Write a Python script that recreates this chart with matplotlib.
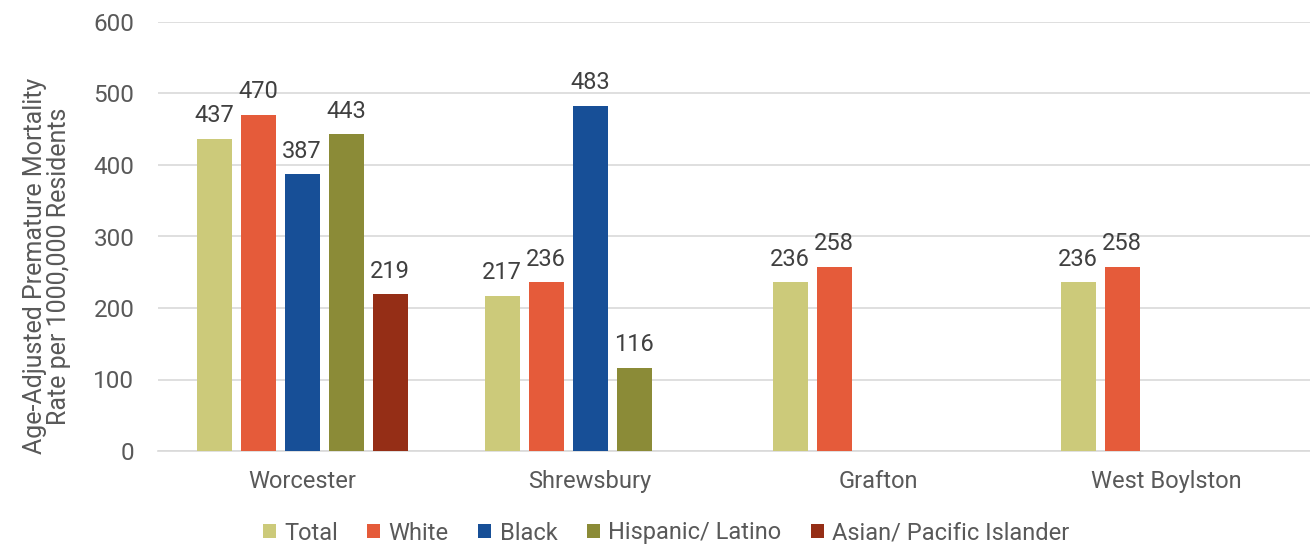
import numpy as np
import matplotlib
matplotlib.use("Agg")
import matplotlib.pyplot as plt

plt.rcParams['font.family'] = ['Roboto', 'DejaVu Sans']

categories = ["Worcester", "Shrewsbury", "Grafton", "West Boylston"]
series_names = ["Total", "White", "Black", "Hispanic/ Latino", "Asian/ Pacific Islander"]
total = [437, 217, 236, 236]
white = [470, 236, 258, 258]
black = [387, 483, np.nan, np.nan]
hispanic = [443, 116, np.nan, np.nan]
asian = [219, np.nan, np.nan, np.nan]
yticks = [0, 100, 200, 300, 400, 500, 600]

colors = ["#CCCA7A", "#E55B3A", "#174F97", "#8B8B37", "#952E16"]
text_color = "#595959"

fig = plt.figure(figsize=(13.1, 5.45), dpi=100)
ax = fig.add_axes([158/1310, 1-451/545, 1-158/1310, (451-22)/545])

x = np.arange(len(categories))
step = 44/288
width = 35/288
all_series = [total, white, black, hispanic, asian]
for i, (vals, name, c) in enumerate(zip(all_series, series_names, colors)):
    pos = x + (i - 2) * step
    ax.bar(pos, vals, width, color=c, label=name, zorder=3)
    for p, v in zip(pos, vals):
        if not np.isnan(v):
            ax.annotate(f"{int(v)}", (p, v), xytext=(0, 12), textcoords='offset points',
                        ha='center', va='baseline', fontsize=17, color="#404040")

ax.set_xlim(-0.5, len(categories) - 0.5)
ax.set_ylim(0, 600)
ax.set_yticks(yticks)
ax.set_yticklabels([str(t) for t in yticks], fontsize=17.5, color=text_color)
ax.set_xticks(x)
ax.set_xticklabels(categories, fontsize=17, color=text_color)
ax.tick_params(axis='both', length=0)
ax.tick_params(axis='y', pad=17)
ax.tick_params(axis='x', pad=14)
ax.grid(axis='y', color="#D9D9D9", linewidth=1.2, zorder=0)
for s in ["top", "right", "left"]:
    ax.spines[s].set_visible(False)
ax.spines["bottom"].set_color("#D9D9D9")
ax.spines["bottom"].set_linewidth(1.2)

fig.text(47/1310, 1-266/545, "Age-Adjusted Premature Mortality\nRate per 1000,000 Residents",
         rotation=90, ha='center', va='center', fontsize=18, color=text_color,
         linespacing=1.05)

leg = fig.legend(loc='center', bbox_to_anchor=(666/1310, 1-533/545), ncol=5,
                 frameon=False, fontsize=17, handlelength=0.55, handleheight=0.55,
                 handletextpad=0.35, columnspacing=1.25)
for t in leg.get_texts():
    t.set_color(text_color)

fig.savefig("out.png", dpi=100)
